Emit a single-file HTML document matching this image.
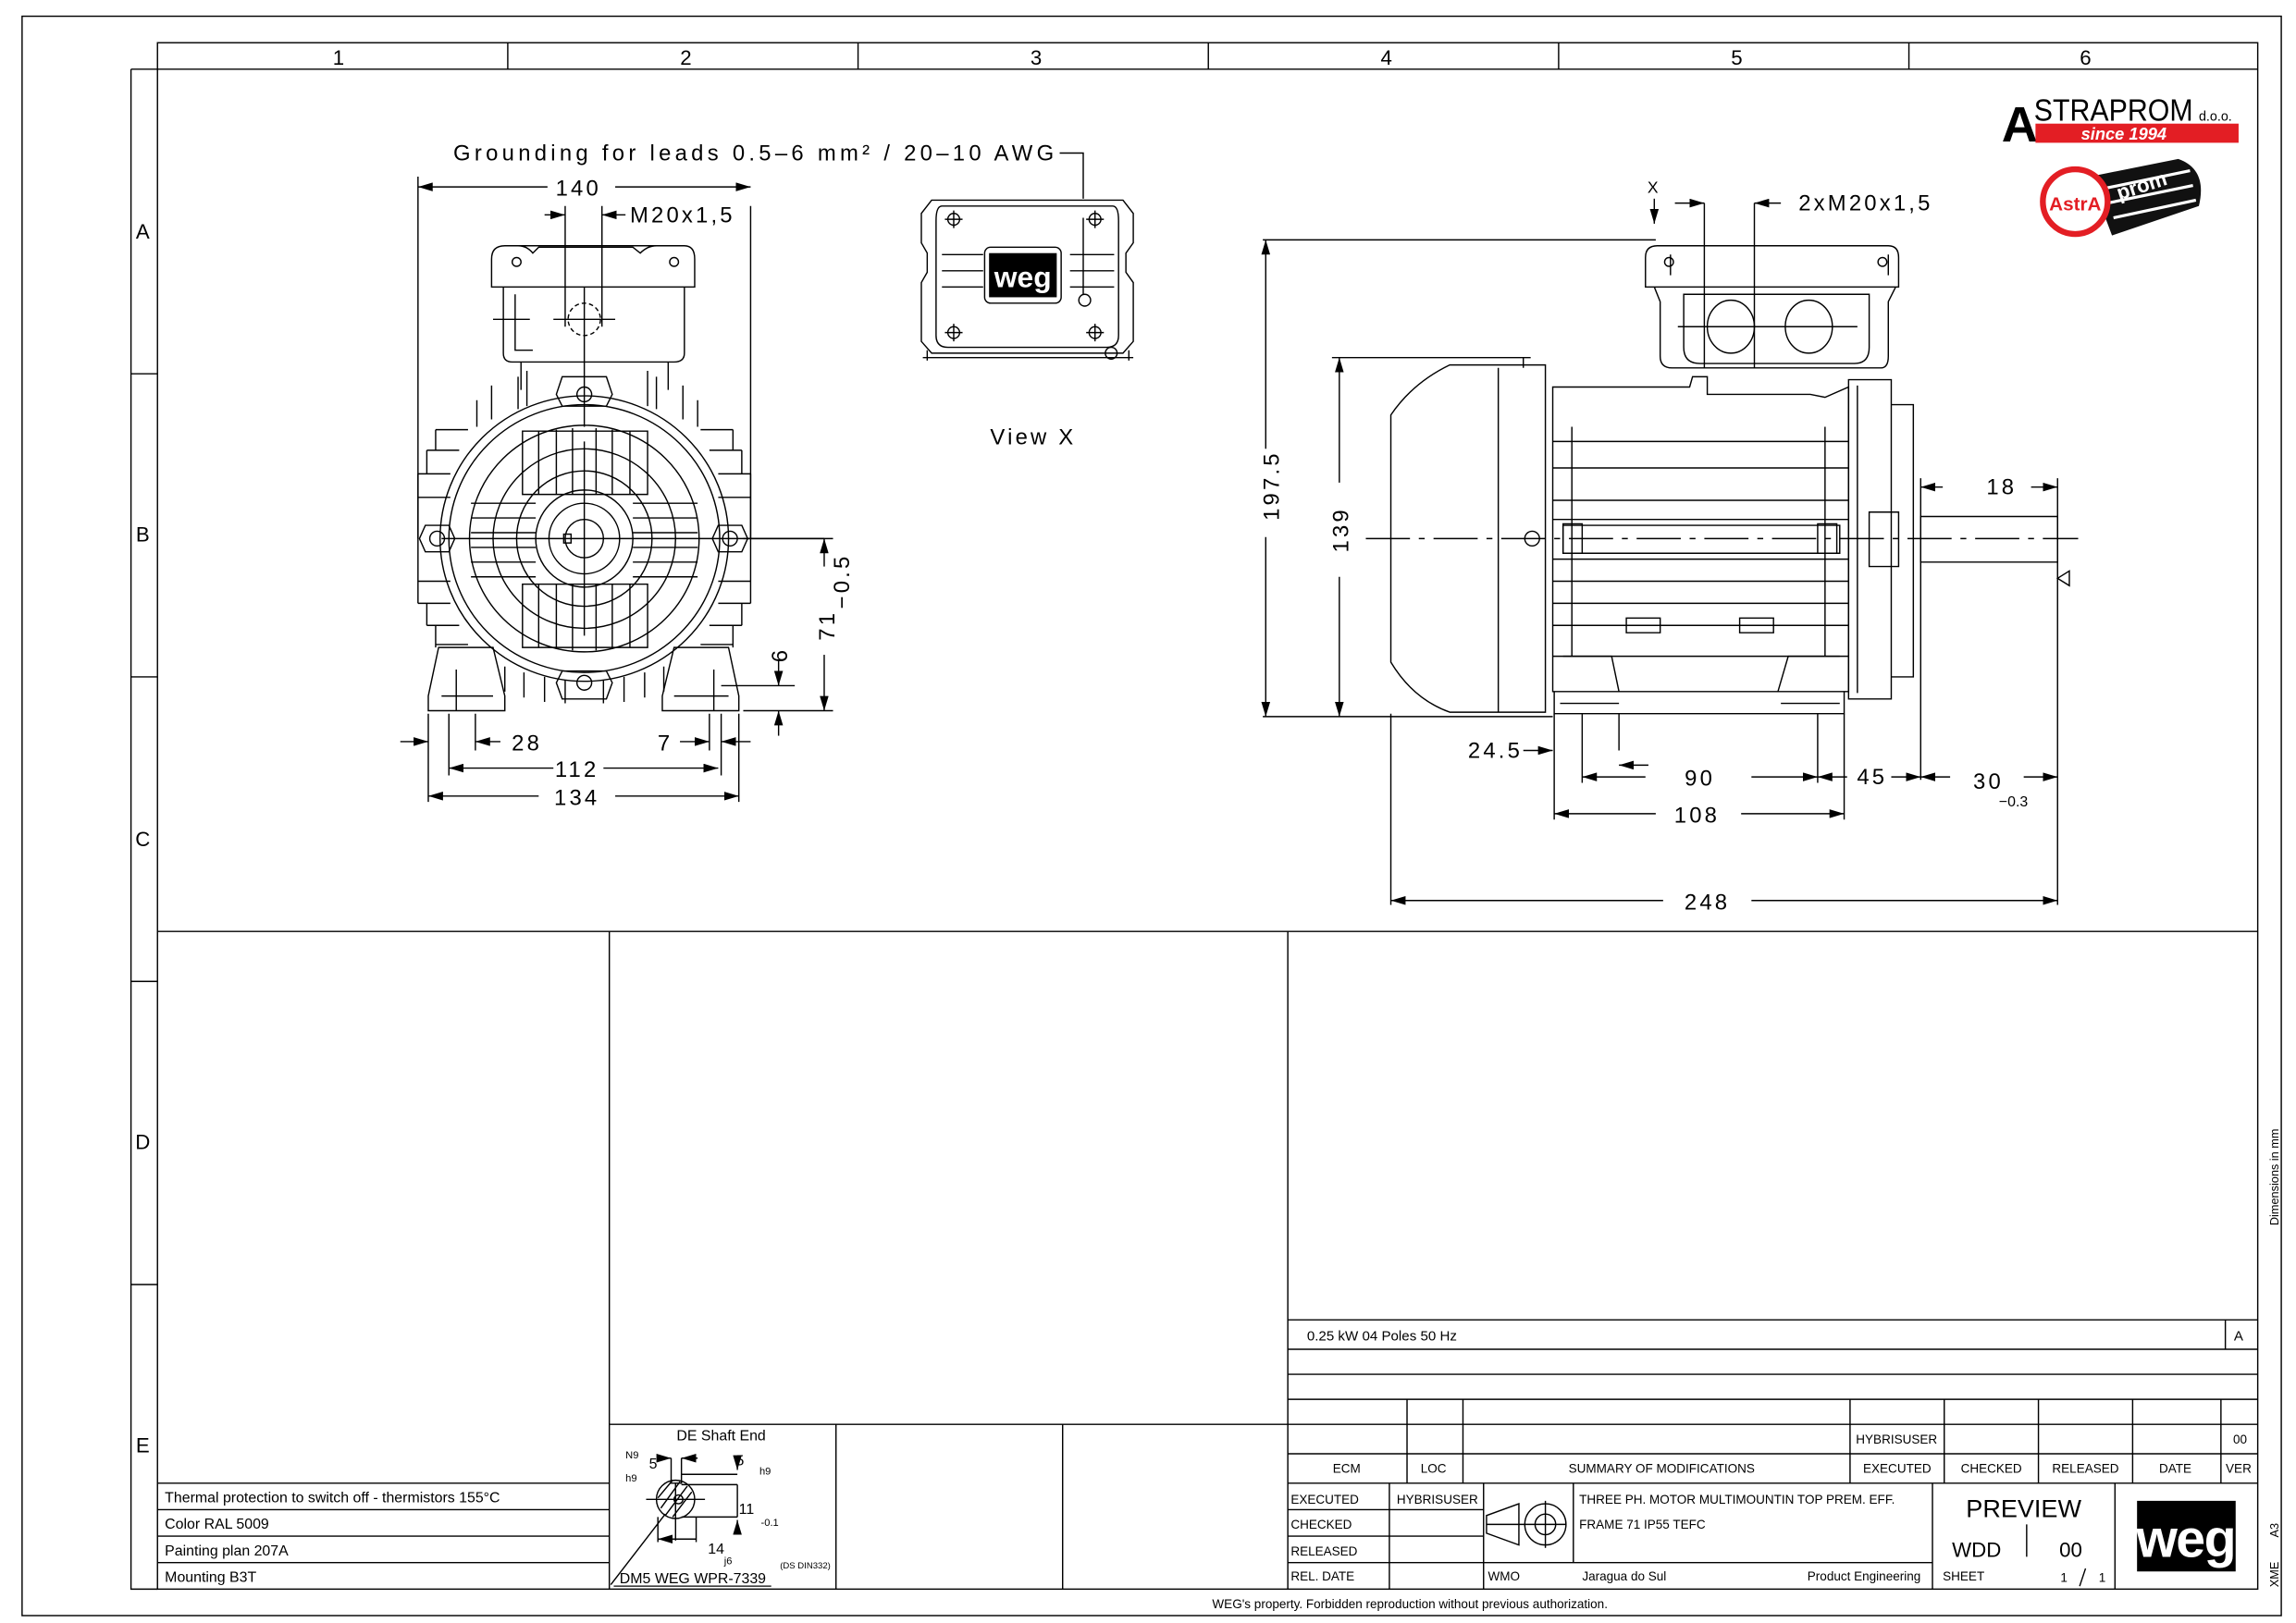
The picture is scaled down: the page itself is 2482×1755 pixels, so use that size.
<!DOCTYPE html>
<html><head><meta charset="utf-8"><style>
html,body{margin:0;padding:0;background:#fff;}
svg{display:block;}
text{font-family:"Liberation Sans",sans-serif;fill:#000;}
.d{font-size:15px;letter-spacing:2px;font-weight:normal;}
.t{font-size:9.5px;}
</style></head><body>
<svg width="2482" height="1755" viewBox="0 0 1560 1103" xmlns="http://www.w3.org/2000/svg">
<defs>
<marker id="a" viewBox="0 0 10 6" refX="10" refY="3" markerWidth="10" markerHeight="6" markerUnits="userSpaceOnUse" orient="auto-start-reverse"><path d="M0,0L10,3L0,6z" fill="#000"/></marker>
</defs>
<rect width="1560" height="1103" fill="#fff"/>
<g fill="none" stroke="#000" stroke-width="0.9">
<rect x="15" y="11" width="1535" height="1087"/>
<rect x="107" y="29" width="1427" height="1051"/>
<line x1="107" y1="47" x2="1534" y2="47"/>
<path d="M345 29V47M583 29V47M821 29V47M1059 29V47M1297 29V47"/>
<path d="M89 47V1080H107M89 47H107M89 254H107M89 460H107M89 667H107M89 873H107"/>
<line x1="107" y1="633" x2="1534" y2="633"/>
<path d="M414 633V1080M875 633V1080"/>
<path d="M107 1008H414M107 1026H414M107 1044H414M107 1062H414"/>
<path d="M414 968H1534M568 968V1080M722 968V1080"/>
<path d="M875 897H1534M875 917H1534M875 934H1534M875 951H1534M875 988H1534M875 1008H1534M1512 897V917"/>
<path d="M956 951V1008M994 951V1008M1257 951V1008M1321 951V1008M1385 951V1008M1449 951V1008M1509 951V1008"/>
<path d="M875 1026H1008M875 1044H1008M875 1062H1313M944 1008V1080M1008 1008V1080M1069 1008V1062M1313 1008V1080M1437 1008V1080M1377 1036V1058"/>
<path d="M1032 1022V1050L1010 1042V1030Z M1010 1036H1064"/>
<circle cx="1050" cy="1036" r="14"/><circle cx="1050" cy="1036" r="7"/>
<line x1="1050" y1="1020" x2="1050" y2="1052"/>
<path d="M1413 1078L1417 1066"/>

<circle cx="459" cy="1019" r="13"/>
<circle cx="461" cy="1019" r="3"/>
<path d="M449 1025L462 1007M452 1030L467 1010M457 1031L470 1014M447 1018L457 1006"/>
<path d="M456 991V1008H463V991M463 1002H501M463 1009H501M463 1031H501"/>
<path d="M439 1019H479M459 1008V1047M447 1031V1048M473 1031V1048"/>
<path d="M501 994V999" marker-end="url(#a)"/><path d="M501 1039V1033" marker-end="url(#a)"/>
<line x1="501" y1="1009" x2="501" y2="1031"/>
<path d="M449 991H456" marker-end="url(#a)"/><path d="M474 991H463" marker-end="url(#a)"/>
<path d="M447 1046H473" marker-start="url(#a)"/>
<path d="M452 1029L415 1077"/>

<path d="M284 127H372" marker-start="url(#a)"/><path d="M418 127H510" marker-end="url(#a)"/>
<path d="M284 120V366M510 120V120M510 140V366"/>
<path d="M720 104H736V135"/>
<path d="M370 146H384" marker-end="url(#a)"/><path d="M425 146H409" marker-end="url(#a)"/>
<path d="M384 140V222M409 140V222"/>
<path d="M505 366H566M505 483H566M490 466H540"/>
<path d="M560 385V366" marker-end="url(#a)"/><path d="M560 445V483" marker-end="url(#a)"/>
<path d="M529 448V466" marker-end="url(#a)"/><path d="M529 500V483" marker-end="url(#a)"/>
<path d="M272 504H291" marker-end="url(#a)"/><path d="M340 504H323" marker-end="url(#a)"/>
<path d="M462 504H482" marker-end="url(#a)"/><path d="M510 504H490" marker-end="url(#a)"/>
<path d="M291 485V545M323 485V510M305 485V527M482 485V510M490 485V527M502 485V545"/>
<path d="M305 522H376" marker-start="url(#a)"/><path d="M410 522H488" marker-end="url(#a)"/>
<path d="M291 541H366" marker-start="url(#a)"/><path d="M418 541H502" marker-end="url(#a)"/>

<path d="M334 195V176Q334 167 343 167H465Q472 167 472 176V195Z"/>
<path d="M343 167L352 167Q358 167 362 172L366 168H430L435 172Q440 167 446 167"/>
<circle cx="351" cy="178" r="3"/><circle cx="458" cy="178" r="3"/>
<path d="M342 195V240Q342 246 348 246H458Q465 246 465 240V195"/>
<path d="M350 200V238H362"/>
<circle cx="397" cy="217" r="11" stroke-dasharray="3 2"/>
<path d="M376 217H418M397 195V290M335 217H360"/>
<path d="M354 246V265M454 246V265"/>
<path d="M382 256H412L416 268L412 276H382L378 268Z"/>
<circle cx="397" cy="268" r="5"/>
<path d="M382 456H412L416 464L412 475H382L378 464Z"/>
<circle cx="397" cy="464" r="5"/>
<circle cx="297" cy="366" r="5"/><path d="M289 357H305L309 366L305 375H289L285 366Z"/>
<circle cx="496" cy="366" r="5"/><path d="M488 357H504L508 366L504 375H488L484 366Z"/>
<ellipse cx="397" cy="366" rx="98" ry="97"/>
<ellipse cx="397" cy="366" rx="92" ry="91"/>
<ellipse cx="397" cy="366" rx="78" ry="77"/>
<ellipse cx="397" cy="366" rx="62" ry="61"/>
<circle cx="397" cy="366" r="46"/>
<circle cx="397" cy="366" r="33"/>
<circle cx="397" cy="366" r="24"/>
<circle cx="397" cy="366" r="13"/>
<rect x="383" y="363" width="5" height="6"/>
<path d="M355 293H440V336H355ZM366 293V336M378 292V336M389 291V336M405 291V336M416 292V336M428 293V336"/>
<path d="M355 397H440V440H355ZM366 397V440M378 397V441M389 397V442M405 397V442M416 397V441M428 397V440"/>
<path d="M320 342H364M320 352H364M320 362H364M320 372H364M320 382H364M320 392H364M430 342H474M430 352H474M430 362H474M430 372H474M430 382H474M430 392H474"/>
<path d="M397 300V432M300 366H560"/>
<path d="M296 292H318M290 306H312M284 322H306M284 338H306M284 395H306M284 410H306M290 425H312M296 438H318"/>
<path d="M296 292V306M290 306V322M284 322V410M290 410V425M296 425V440"/>
<path d="M498 292H476M504 306H482M510 322H488M510 338H488M510 395H488M510 410H488M504 425H482M498 438H476"/>
<path d="M498 292V306M504 306V322M510 322V410M504 410V425M498 425V440"/>
<path d="M324 272V290M334 262V285M352 256V278M358 252V276M440 252V276M446 256V278M464 262V285M474 272V290"/>
<path d="M298 440L291 473V483H343V473L335 440Z"/>
<path d="M495 440L502 473V483H450V473L458 440Z"/>
<path d="M300 473H335M458 473H495M310 455V483M485 455V483"/>
<path d="M343 453V470M356 457V474M370 460V477M384 462V478M410 462V478M424 460V477M438 457V474M451 453V470"/>

<path d="M633 136H763L770 145V165L765 172V185L770 192V232L763 240H633L626 232V192L630 185V172L626 165V145Z"/>
<path d="M640 140H756Q760 140 760 150V228Q760 236 752 236H644Q636 236 636 228V150Q636 140 640 140Z"/>
<path d="M627 243H770M630 238V245M767 238V245"/>
<circle cx="648" cy="149" r="4"/><circle cx="744" cy="149" r="4"/><circle cx="648" cy="226" r="4"/><circle cx="744" cy="226" r="4"/>
<path d="M642 149H654M648 143V155M738 149H750M744 143V155M642 226H654M648 220V232M738 226H750M744 220V232"/>
<path d="M640 173H668M640 184H668M640 195H668M727 173H757M727 184H757M727 195H757"/>
<rect x="669" y="168" width="52" height="38" rx="4"/>
<circle cx="737" cy="204" r="4"/><circle cx="755" cy="240" r="4"/>
<path d="M736 148V200"/>

<path d="M1124 135V152" marker-end="url(#a)"/>
<path d="M1138 138H1158" marker-end="url(#a)"/><path d="M1210 138H1192" marker-end="url(#a)"/>
<path d="M1158 138V250M1192 138V250"/>
<path d="M858 163H1125M858 487H1055M905 243H1040"/>
<path d="M860 305V163" marker-end="url(#a)"/><path d="M860 365V487" marker-end="url(#a)"/>
<path d="M910 328V243" marker-end="url(#a)"/><path d="M910 392V487" marker-end="url(#a)"/>
<path d="M928 366H1412" stroke-dasharray="30 6 4 6"/>
<path d="M1320 331H1305" marker-end="url(#a)"/><path d="M1380 331H1398" marker-end="url(#a)"/>
<path d="M1305 325V530M1398 325V615M945 485V615M1056 485V557M1253 485V557M1075 485V532M1235 485V532M1100 485V510"/>
<path d="M1035 510H1055" marker-end="url(#a)"/><path d="M1120 520H1100" marker-end="url(#a)"/>
<path d="M1075 528H1118" marker-start="url(#a)"/><path d="M1190 528H1235" marker-end="url(#a)"/>
<path d="M1255 528H1235" marker-end="url(#a)"/><path d="M1285 528H1305" marker-end="url(#a)"/>
<path d="M1325 528H1305" marker-end="url(#a)"/><path d="M1375 528H1398" marker-end="url(#a)"/>
<path d="M1056 553H1125" marker-start="url(#a)"/><path d="M1183 553H1253" marker-end="url(#a)"/>
<path d="M945 612H1130" marker-start="url(#a)"/><path d="M1190 612H1398" marker-end="url(#a)"/>
<path d="M1406 388V398L1398 393Z"/>
<path d="M1118 195V175Q1118 167 1126 167H1283Q1290 167 1290 175V195Z"/>
<path d="M1124 195L1128 205V242Q1128 250 1136 250H1278Q1283 250 1283 242V205L1288 195"/>
<path d="M1144 200V236Q1144 247 1155 247H1260Q1270 247 1270 236V200Z"/>
<ellipse cx="1176" cy="222" rx="16" ry="18"/><ellipse cx="1229" cy="222" rx="16" ry="18"/>
<path d="M1140 222H1262M1135 173V187M1283 173V187"/>
<circle cx="1134" cy="178" r="3"/><circle cx="1279" cy="178" r="3"/>
<path d="M1050 248H985Q960 260 945 282V450Q960 475 985 484H1050Z"/>
<path d="M1018 250V484M1035 243V250"/>
<circle cx="1041" cy="366" r="5"/>
<path d="M1055 263H1148L1150 256H1160L1160 268H1230L1240 270L1256 263V470H1055Z"/>
<path d="M1055 300H1256M1055 318H1256M1055 340H1256M1055 353H1256M1055 380H1256M1055 395H1256M1055 410H1256M1055 425H1256M1055 446H1256"/>
<path d="M1068 290V446M1240 290V446M1062 357H1250V376H1062Z"/>
<path d="M1062 356H1075V376H1062ZM1235 356H1248V376H1235Z"/>
<path d="M1105 420H1128V430H1105ZM1182 420H1205V430H1182Z"/>
<path d="M1062 446L1095 446L1100 470M1250 446L1215 446L1208 470"/>
<path d="M1056 470V485H1253V470M1060 478H1100M1210 478H1250"/>
<path d="M1256 258H1285V475H1256ZM1262 262V471M1285 275H1300V460H1285"/>
<path d="M1270 348H1290V385H1270Z"/>
<path d="M1305 351H1398V382H1305Z"/>
</g>

<rect x="672" y="172" width="46" height="30" fill="#000"/>
<text x="695" y="195" font-size="20" text-anchor="middle" style="font-weight:bold;fill:#fff">weg</text>
<rect x="1452" y="1020" width="67" height="48" fill="#000"/>
<text x="1485" y="1058" font-size="36" text-anchor="middle" style="font-weight:bold;fill:#fff;letter-spacing:-1px">weg</text>

<text x="1360" y="96" font-size="34" style="font-weight:bold" transform="scale(1 1)">A</text>
<text x="1382" y="82" font-size="21" textLength="108" lengthAdjust="spacingAndGlyphs">STRAPROM</text>
<text x="1494" y="82" font-size="9">d.o.o.</text>
<rect x="1383" y="84" width="138" height="13" fill="#e31e24"/>
<text x="1443" y="95" font-size="11.5" text-anchor="middle" style="fill:#fff;font-weight:bold;font-style:italic">since 1994</text>
<path d="M1420 120L1480 108Q1500 115 1494 140L1435 160Z" fill="#111"/>
<path d="M1430 128L1488 116M1432 138L1490 126M1436 148L1492 136" stroke="#fff" stroke-width="2"/>
<circle cx="1410" cy="137" r="22" fill="#fff" stroke="#e31e24" stroke-width="4"/>
<text x="1410" y="143" font-size="13" text-anchor="middle" style="fill:#e31e24;font-weight:bold">AstrA</text>
<text x="1440" y="136" font-size="14" style="fill:#fff;font-weight:bold" transform="rotate(-18 1440 136)">prom</text>

<g font-size="14">
<text x="230" y="44" text-anchor="middle">1</text><text x="466" y="44" text-anchor="middle">2</text><text x="704" y="44" text-anchor="middle">3</text><text x="942" y="44" text-anchor="middle">4</text><text x="1180" y="44" text-anchor="middle">5</text><text x="1417" y="44" text-anchor="middle">6</text>
<text x="97" y="162" text-anchor="middle">A</text><text x="97" y="368" text-anchor="middle">B</text><text x="97" y="575" text-anchor="middle">C</text><text x="97" y="781" text-anchor="middle">D</text><text x="97" y="987" text-anchor="middle">E</text>
</g>

<g class="d">
<text x="308" y="109" textLength="410" lengthAdjust="spacing">Grounding for leads 0.5–6 mm² / 20–10 AWG</text>
<text x="393" y="133" text-anchor="middle">140</text>
<text x="428" y="151">M20x1,5</text>
<text x="358" y="510" text-anchor="middle">28</text>
<text x="452" y="510" text-anchor="middle">7</text>
<text x="392" y="528" text-anchor="middle">112</text>
<text x="392" y="547" text-anchor="middle">134</text>
<text transform="translate(567 425) rotate(-90)" text-anchor="middle">71</text>
<text transform="translate(577 395) rotate(-90)" text-anchor="middle">−0.5</text>
<text transform="translate(535 445) rotate(-90)" text-anchor="middle">6</text>
<text x="702" y="302" text-anchor="middle">View X</text>
<text x="1124" y="131" text-anchor="middle" style="font-size:11px">X</text>
<text x="1222" y="143">2xM20x1,5</text>
<text transform="translate(869 330) rotate(-90)" text-anchor="middle">197.5</text>
<text transform="translate(916 360) rotate(-90)" text-anchor="middle">139</text>
<text x="1360" y="336" text-anchor="middle">18</text>
<text x="1016" y="515" text-anchor="middle">24.5</text>
<text x="1155" y="534" text-anchor="middle">90</text>
<text x="1272" y="533" text-anchor="middle">45</text>
<text x="1351" y="536" text-anchor="middle">30</text>
<text x="1368" y="548" text-anchor="middle" style="font-size:10px;letter-spacing:0">−0.3</text>
<text x="1153" y="559" text-anchor="middle">108</text>
<text x="1160" y="618" text-anchor="middle">248</text>
</g>

<g class="t" style="font-size:10px">
<text x="112" y="1021">Thermal protection to switch off - thermistors 155°C</text>
<text x="112" y="1039">Color RAL 5009</text>
<text x="112" y="1057">Painting plan 207A</text>
<text x="112" y="1075">Mounting B3T</text>
</g>
<g style="font-size:9px">
<text x="490" y="979" text-anchor="middle" style="font-size:10px">DE Shaft End</text>
<text x="425" y="991" style="font-size:7px">N9</text>
<text x="425" y="1007" style="font-size:7px">h9</text>
<text x="441" y="998" style="font-size:10px">5</text>
<text x="500" y="996" style="font-size:10px">5</text>
<text x="516" y="1002" style="font-size:7px">h9</text>
<text x="502" y="1029" style="font-size:10px">11</text>
<text x="517" y="1037" style="font-size:7px">-0.1</text>
<text x="481" y="1056" style="font-size:10px">14</text>
<text x="492" y="1063" style="font-size:7px">j6</text>
<text x="530" y="1066" style="font-size:6px">(DS DIN332)</text>
<text x="421" y="1076" style="font-size:10px">DM5 WEG WPR-7339</text>
</g>
<line x1="417" y1="1078" x2="524" y2="1078" stroke="#000" stroke-width="0.8"/>

<g class="t">
<text x="888" y="911">0.25 kW    04 Poles    50  Hz</text>
<text x="1521" y="911" text-anchor="middle">A</text>
<text x="1261" y="981" style="font-size:8.5px">HYBRISUSER</text>
<text x="1522" y="981" text-anchor="middle" style="font-size:8.5px">00</text>
<g style="font-size:8.5px" text-anchor="middle">
<text x="915" y="1001">ECM</text><text x="974" y="1001">LOC</text><text x="1129" y="1001">SUMMARY OF MODIFICATIONS</text><text x="1289" y="1001">EXECUTED</text><text x="1353" y="1001">CHECKED</text><text x="1417" y="1001">RELEASED</text><text x="1478" y="1001">DATE</text><text x="1521" y="1001">VER</text>
</g>
<g style="font-size:8.5px">
<text x="877" y="1022">EXECUTED</text><text x="949" y="1022">HYBRISUSER</text>
<text x="877" y="1039">CHECKED</text><text x="877" y="1057">RELEASED</text><text x="877" y="1074">REL. DATE</text>
<text x="1073" y="1022">THREE PH. MOTOR  MULTIMOUNTIN   TOP PREM. EFF.</text>
<text x="1073" y="1039">FRAME 71 IP55 TEFC</text>
<text x="1011" y="1074">WMO</text><text x="1075" y="1074">Jaragua do Sul</text>
<text x="1305" y="1074" text-anchor="end">Product Engineering</text>
<text x="1320" y="1074">SHEET</text>
<text x="1400" y="1075">1</text><text x="1426" y="1075">1</text>
</g>
<text x="1375" y="1031" text-anchor="middle" font-size="17">PREVIEW</text>
<text x="1343" y="1058" text-anchor="middle" font-size="14">WDD</text>
<text x="1407" y="1058" text-anchor="middle" font-size="14">00</text>
<text x="958" y="1093" text-anchor="middle" style="font-size:8.5px">WEG's property. Forbidden reproduction without previous authorization.</text>
<text transform="translate(1548 800) rotate(-90)" text-anchor="middle" style="font-size:8px">Dimensions in mm</text>
<text transform="translate(1548 1070) rotate(-90)" text-anchor="middle" style="font-size:8px">XME</text>
<text transform="translate(1548 1040) rotate(-90)" text-anchor="middle" style="font-size:8px">A3</text>
</g>
</svg>
</body></html>
